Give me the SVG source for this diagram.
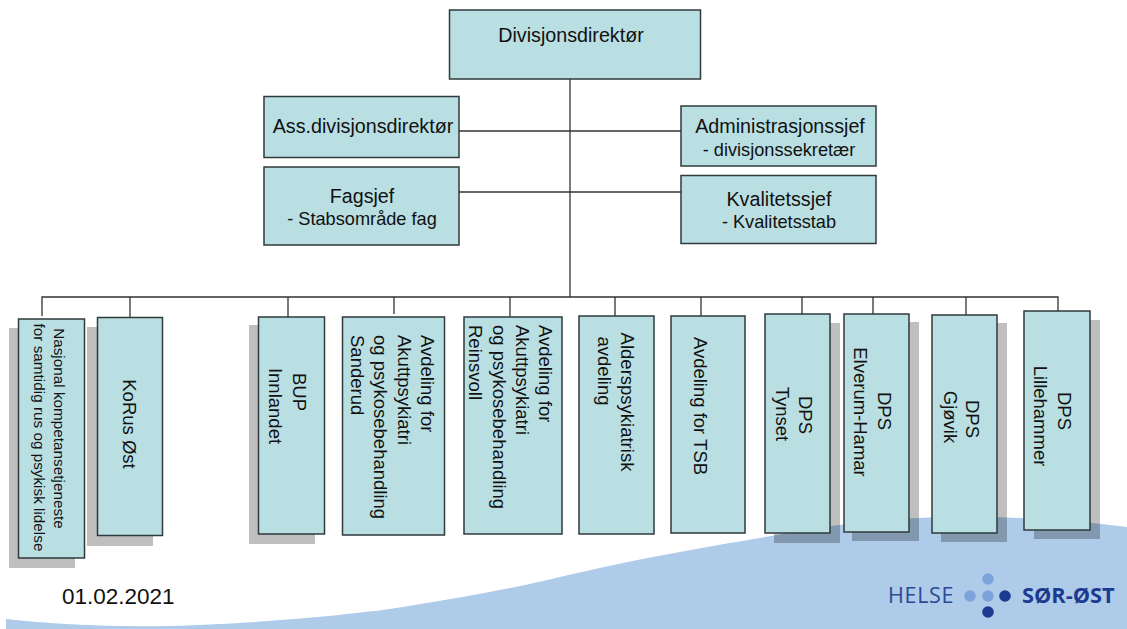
<svg xmlns="http://www.w3.org/2000/svg" width="1127" height="629" viewBox="0 0 1127 629">
<style>
text{font-family:"Liberation Sans",Arial,sans-serif;fill:#111}
.box{fill:#b9dfe3;stroke:#2f3a3c;stroke-width:1.5}
.sh{fill:#000;fill-opacity:.25}
.h{font-size:19.700px;text-anchor:middle}
.s{font-size:18.200px;text-anchor:middle}
.r{font-size:18.500px}
.c{text-anchor:middle}
.n{font-size:15.300px;text-anchor:middle}
.line{stroke:#333;stroke-width:1.3;fill:none}
</style>
<rect width="1127" height="629" fill="#fff"/>
<path id="wave" d="M6 619C50 624 110 627 170 626C270 623 340 615 383 610C450 600 520 587 560 577C640 558 700 548 777 535C830 525 880 519 930 517.500C1000 515 1070 520 1127 527V629H6Z" fill="#aecbea"/>
<g id="connectors" class="line">
<path d="M570 79V297M459 131H681M459 192H681M42 316V297H1058V314M130 297V317M288 297V317M394 297V314M510 297V317M615 297V316M701 297V316M802 297V315M873 297V314M966 297V315"/>
</g>
<g id="n-direktor"><rect class="box" x="449.500" y="10" width="251" height="69"/><text class="h" x="571" y="42">Divisjonsdirektør</text></g>
<g id="n-ass"><rect class="box" x="264" y="96.500" width="195" height="61"/><text class="h" x="363" y="133">Ass.divisjonsdirektør</text></g>
<g id="n-admin"><rect class="box" x="681" y="106" width="195" height="60"/><text class="h" x="780" y="133">Administrasjonssjef</text><text class="s" x="779" y="156">- divisjonssekretær</text></g>
<g id="n-fag"><rect class="box" x="264" y="167" width="195" height="78"/><text class="h" x="362" y="203">Fagsjef</text><text class="s" x="362" y="225">- Stabsområde fag</text></g>
<g id="n-kval"><rect class="box" x="681" y="175.500" width="195" height="68"/><text class="h" x="779" y="206">Kvalitetssjef</text><text class="s" x="779" y="228">- Kvalitetsstab</text></g>
<g id="n-nasjonal"><rect class="sh" x="9" y="328" width="66" height="240"/><rect class="box" x="18.500" y="319" width="66" height="239"/><text class="n" transform="translate(54 428.500) rotate(90)">Nasjonal kompetansetjeneste</text><text class="n" transform="translate(34 437.500) rotate(90)">for samtidig rus og psykisk lidelse</text></g>
<g id="n-korus"><rect class="sh" x="87" y="327" width="66" height="219"/><rect class="box" x="97.500" y="317.500" width="65" height="218"/><text class="r c" transform="translate(123 424) rotate(90)">KoRus Øst</text></g>
<g id="n-bup"><rect class="sh" x="249" y="325" width="66" height="219"/><rect class="box" x="258.500" y="317" width="66" height="217"/><text class="r c" transform="translate(293 392) rotate(90)">BUP</text><text class="r c" transform="translate(269 406) rotate(90)">Innlandet</text></g>
<g id="n-sanderud"><rect class="box" x="342.500" y="317" width="102" height="218"/><text class="r" transform="translate(421 335) rotate(90)">Avdeling for</text><text class="r" transform="translate(398 335) rotate(90)">Akuttpsykiatri</text><text class="r" transform="translate(374 335) rotate(90)">og psykosebehandling</text><text class="r" transform="translate(351 335) rotate(90)">Sanderud</text></g>
<g id="n-reinsvoll"><rect class="box" x="464" y="317" width="98" height="217"/><text class="r" transform="translate(539 325) rotate(90)">Avdeling for</text><text class="r" transform="translate(516 325) rotate(90)">Akuttpsykiatri</text><text class="r" transform="translate(493 325) rotate(90)">og psykosebehandling</text><text class="r" transform="translate(469 325) rotate(90)">Reinsvoll</text></g>
<g id="n-alders"><rect class="box" x="579" y="316" width="75" height="218"/><text class="r c" transform="translate(621 402) rotate(90)">Alderspsykiatrisk</text><text class="r c" transform="translate(598 371) rotate(90)">avdeling</text></g>
<g id="n-tsb"><rect class="box" x="671" y="316" width="74" height="217"/><text class="r c" transform="translate(694 406) rotate(90)">Avdeling for TSB</text></g>
<g id="n-tynset"><rect class="sh" x="774" y="323" width="66" height="220"/><rect class="box" x="765" y="314" width="65" height="219"/><text class="r c" transform="translate(799 415) rotate(90)">DPS</text><text class="r c" transform="translate(776 414) rotate(90)">Tynset</text></g>
<g id="n-elverum"><rect class="sh" x="852" y="322" width="67" height="219"/><rect class="box" x="844" y="314" width="65" height="218"/><text class="r c" transform="translate(878 411) rotate(90)">DPS</text><text class="r c" transform="translate(854 412) rotate(90)">Elverum-Hamar</text></g>
<g id="n-gjovik"><rect class="sh" x="941" y="323" width="66" height="219"/><rect class="box" x="932" y="315" width="65" height="218"/><text class="r c" transform="translate(966 419) rotate(90)">DPS</text><text class="r c" transform="translate(944 417) rotate(90)">Gjøvik</text></g>
<g id="n-lillehammer"><rect class="sh" x="1034" y="320" width="66" height="219"/><rect class="box" x="1024" y="311" width="66" height="219"/><text class="r c" transform="translate(1058 411) rotate(90)">DPS</text><text class="r c" transform="translate(1034 416) rotate(90)">Lillehammer</text></g>
<text x="62" y="604" font-size="22.500">01.02.2021</text>
<g id="logo">
<text x="888" y="603" font-size="21.500" letter-spacing="0.700" style="font-family:'Open Sans',sans-serif;fill:#2b4a94">HELSE</text>
<circle cx="970" cy="596" r="5.800" fill="#7da3dc"/><circle cx="988" cy="579" r="5.800" fill="#7da3dc"/><circle cx="988" cy="596" r="5.800" fill="#7da3dc"/><circle cx="1005" cy="596" r="5.800" fill="#1c3a8f"/><circle cx="988" cy="612" r="5.800" fill="#1c3a8f"/>
<text x="1022" y="603" font-size="21.800" font-weight="700" style="font-family:'Open Sans',sans-serif;fill:#1c3a8f">SØR-ØST</text>
</g>
</svg>
